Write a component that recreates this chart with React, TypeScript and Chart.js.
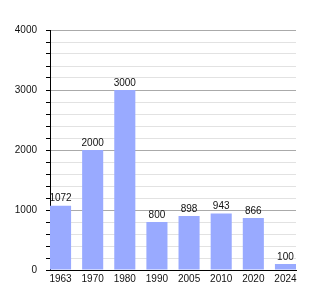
import React, { useEffect, useRef } from "react";
import { Chart, registerables } from "chart.js";

Chart.register(...registerables);

const years = ["1963", "1970", "1980", "1990", "2005", "2010", "2020", "2024"];
const population = [1072, 2000, 3000, 800, 898, 943, 866, 100];
const yMin = 0;
const yMax = 4000;
const yStep = 200;
const yLabelStep = 1000;

const FONT = "'Liberation Sans', Arial, sans-serif";

const valueLabels = {
  id: "valueLabels",
  afterDatasetsDraw(chart: any) {
    const { ctx, chartArea } = chart;
    const meta = chart.getDatasetMeta(0);
    ctx.save();
    ctx.beginPath();
    ctx.rect(chartArea.left, 0, chartArea.right - chartArea.left, chartArea.bottom);
    ctx.clip();
    ctx.fillStyle = "#111";
    ctx.font = `10px ${FONT}`;
    ctx.textAlign = "center";
    ctx.textBaseline = "bottom";
    meta.data.forEach((bar: any, i: number) => {
      ctx.fillText(String(population[i]), bar.x, bar.y - 2);
    });
    ctx.restore();
  },
};

export default function App() {
  const ref = useRef<HTMLCanvasElement | null>(null);
  useEffect(() => {
    if (!ref.current) return;
    const chart = new Chart(ref.current, {
      type: "bar",
      data: {
        datasets: [
          {
            data: years.map((_, i) => ({ x: i, y: population[i] })),
            backgroundColor: "#99aaff",
            borderWidth: 0,
            categoryPercentage: 1,
            barPercentage: 0.656,
          },
        ],
      },
      options: {
        animation: false,
        responsive: true,
        maintainAspectRatio: false,
        layout: { padding: { top: 30, right: 29, bottom: 0, left: 0 } },
        plugins: { legend: { display: false }, tooltip: { enabled: false } },
        scales: {
          x: {
            type: "linear",
            offset: false,
            min: -0.328,
            max: years.length - 1 + 0.328,
            grid: { display: false, drawTicks: false, tickLength: 0, offset: false },
            border: { display: true, color: "#000", width: 1 },
            ticks: {
              stepSize: 1,
              includeBounds: false,
              autoSkip: false,
              maxRotation: 0,
              padding: 3,
              color: "#111",
              font: { family: FONT, size: 10 },
              callback: (v: any) => (Number.isInteger(v) ? years[v] ?? "" : ""),
            },
            afterFit: (s: any) => {
              s.height = 30;
            },
          },
          y: {
            min: yMin,
            max: yMax,
            grid: {
              color: (c: any) =>
                c.tick && c.tick.value % yLabelStep === 0 ? "#aaaaaa" : "#e2e2e2",
              tickColor: "#000",
              tickLength: 4,
              drawTicks: true,
            },
            border: { display: true, color: "#000", width: 1 },
            ticks: {
              stepSize: yStep,
              autoSkip: false,
              padding: 9,
              color: "#111",
              font: { family: FONT, size: 10 },
              callback: (v: any) => (v % yLabelStep === 0 ? String(v) : ""),
            },
            afterFit: (s: any) => {
              s.width = 50;
            },
          },
        },
      },
      plugins: [valueLabels],
    });
    return () => chart.destroy();
  }, []);
  return (
    <div style={{ position: "absolute", left: 0, top: 0, width: 325, height: 300 }}>
      <canvas ref={ref} />
    </div>
  );
}
